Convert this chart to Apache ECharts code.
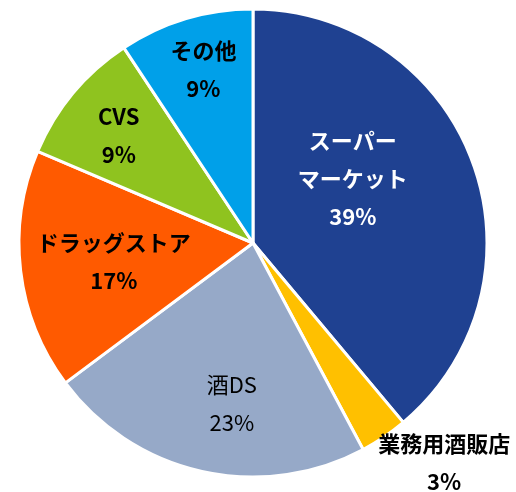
<!DOCTYPE html>
<html>
<head>
<meta charset="utf-8">
<script src="https://cdn.jsdelivr.net/npm/echarts@6/dist/echarts.min.js"></script>
<style>
  html, body { margin: 0; padding: 0; background: #fff; }
  #chart { width: 516px; height: 492px; }
</style>
</head>
<body>
<div id="chart"></div>
<script>
// channel share (clockwise from 12 o'clock)
const channels = ['スーパー\nマーケット', '業務用酒販店', '酒DS', 'ドラッグストア', 'CVS', 'その他'];
const shares = [38.9, 3.3, 22.6, 16.6, 9.3, 9.3];
const sliceColors = ['#1f4191', '#ffc000', '#96a9c8', '#ff5a00', '#8fc31f', '#00a0e9'];
const labelColors = ['#ffffff', '#000000', '#000000', '#000000', '#000000', '#000000'];
const labelWeights = ['bold', 'bold', 'normal', 'bold', 'bold', 'bold'];
// nudges from the default inside label spot
const labelShift = [[-13, -23], [124, 120], [5, 44], [-20, 4], [-42, -31], [-15, -58]];

const chart = echarts.init(document.getElementById('chart'));

const pieData = channels.map((name, i) => ({
    name: name,
    value: shares[i],
    itemStyle: { color: sliceColors[i] },
    label: { color: labelColors[i], fontWeight: labelWeights[i] }
}));

chart.setOption({
    backgroundColor: '#fff',
    animation: false,
    series: [{
        type: 'pie',
        center: [253, 243],
        radius: 234,
        startAngle: 90,
        clockwise: true,
        avoidLabelOverlap: false,
        itemStyle: { borderColor: '#fff', borderWidth: 3 },
        label: {
            show: true,
            position: 'inside',
            fontFamily: '"Noto Sans CJK JP", "Noto Sans", sans-serif',
            fontSize: 22,
            lineHeight: 38,
            align: 'center',
            formatter: p => p.name + '\n' + Math.round(p.percent) + '%'
        },
        labelLine: { show: false },
        labelLayout: params => ({
            dx: labelShift[params.dataIndex][0],
            dy: labelShift[params.dataIndex][1]
        }),
        emphasis: { disabled: true },
        data: pieData
    }]
});
</script>
</body>
</html>
